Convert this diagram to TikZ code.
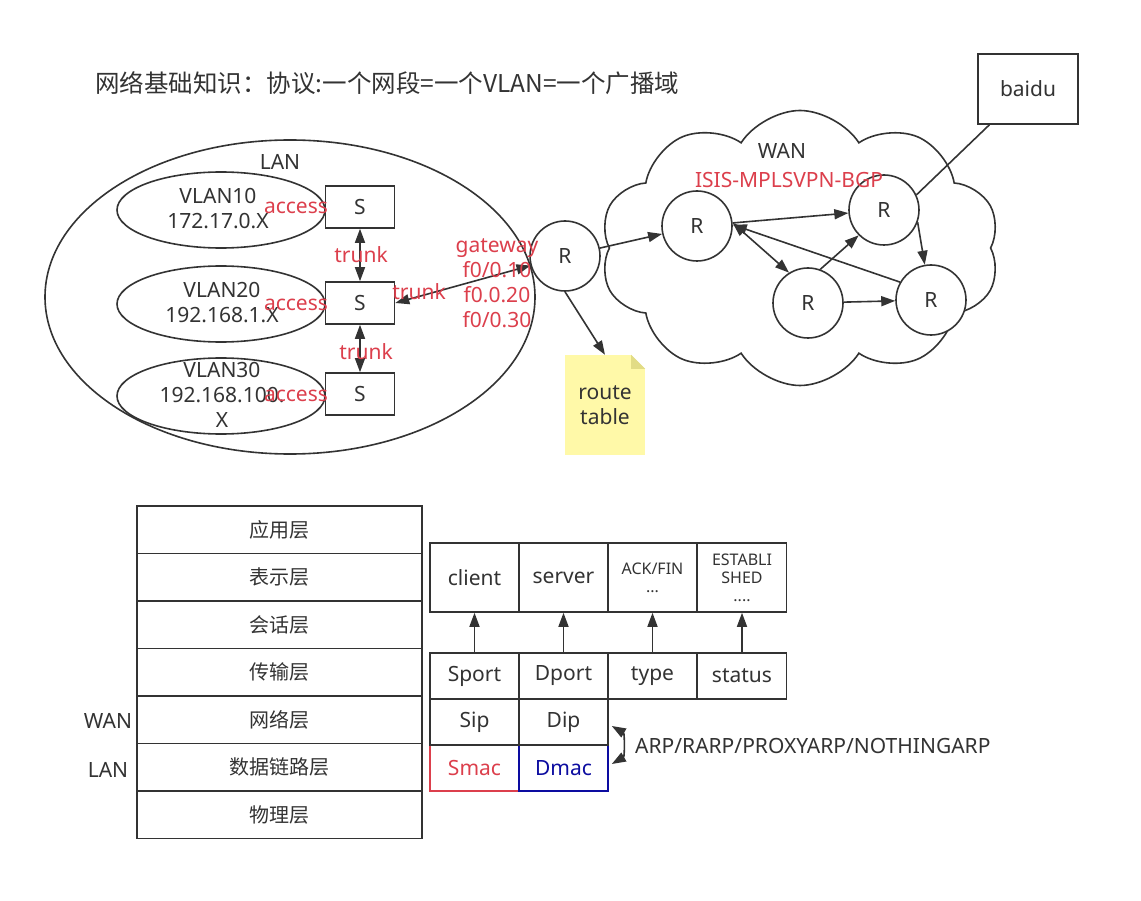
\documentclass[tikz,border=0pt]{standalone}
\usepackage{fontspec}
\setmainfont{Noto Sans}
\newfontfamily\cjk{Noto Sans CJK SC}
\usetikzlibrary{shapes.symbols,shapes.geometric,arrows.meta,calc}
\definecolor{ln}{HTML}{333333}
\definecolor{rd}{HTML}{DC3F4C}
\definecolor{bl}{HTML}{0C0CA0}
\definecolor{notey}{HTML}{FFF9A8}
\definecolor{notef}{HTML}{E2DC86}
\tikzset{
  lw/.style={draw=ln,line width=1.6pt},
  tip/.tip={Triangle[length=14pt,width=10pt]},
  arr/.style={lw,-tip},
  dbl/.style={lw,tip-tip},
  txt/.style={font=\fontsize{21}{25}\selectfont,text=ln,align=center,inner sep=0pt},
  rtxt/.style={font=\fontsize{21}{25}\selectfont,text=rd,align=center,inner sep=0pt},
  stxt/.style={font=\fontsize{16}{18}\selectfont,text=ln,align=center,inner sep=0pt},
  sbox/.style={lw,rectangle,minimum width=69pt,minimum height=42pt,inner sep=0pt,font=\fontsize{21}{25}\selectfont,text=ln},
  rnode/.style={lw,circle,fill=white,minimum size=70pt,inner sep=0pt,font=\fontsize{21}{25}\selectfont,text=ln},
  vell/.style={lw,ellipse,minimum width=208pt,minimum height=76pt,inner sep=0pt},
  osi/.style={lw,rectangle,minimum width=285pt,minimum height=47.5pt,inner sep=0pt,font=\cjk\fontsize{20}{24}\selectfont,text=ln},
  cellA/.style={lw,rectangle,minimum width=89pt,minimum height=69pt,inner sep=0pt},
  cellB/.style={lw,rectangle,minimum width=89pt,minimum height=46pt,inner sep=0pt,font=\fontsize{21}{25}\selectfont,text=ln},
}
\begin{document}
\begin{tikzpicture}[x=1pt,y=-1pt]
\useasboundingbox[fill=white] (0,0) rectangle (1141,901);

% title
\node[anchor=west,inner sep=0pt,text=ln,font=\cjk\fontsize{24.5}{28}\selectfont] (title) at (95,83) {网络基础知识：协议:一个网段=一个VLAN=一个广播域};

% LAN
\node[lw,ellipse,minimum width=490pt,minimum height=314pt,inner sep=0pt] (lan) at (290,297) {};
\node[txt] (lanlbl) at (280,162) {LAN};
\node[vell] (v10) at (221,210) {};
\node[vell] (v20) at (221,304) {};
\node[vell] (v30) at (221,396) {};
\node[txt] (v10t) at (218,209) {VLAN10\\172.17.0.X};
\node[txt] (v20t) at (222,303) {VLAN20\\192.168.1.X};
\node[txt] (v30t) at (222,395) {VLAN30\\192.168.100.\\X};
\node[sbox] (s1) at (360,207) {S};
\node[sbox] (s2) at (360,303) {S};
\node[sbox] (s3) at (360,394) {S};
\node[rtxt] (a1) at (296,208) {access};
\node[rtxt] (a2) at (296,305) {access};
\node[rtxt] (a3) at (296,396) {access};
\draw[dbl] (s1) -- (s2);
\draw[dbl] (s2) -- (s3);
\node[rtxt] (t1) at (361,255) {trunk};
\node[rtxt] (t3) at (366,352) {trunk};

% gateway router
\node[rnode,fill=none] (rg) at (565,256) {R};
\draw[dbl] (s2.east) -- (rg);
\node[rtxt] (t2) at (419,292) {trunk};
\node[rtxt] (gw) at (497,283) {gateway\\f0/0.10\\f0.0.20\\f0/0.30};

% route table note
\node[fill=notey,minimum width=80pt,minimum height=100pt,inner sep=0pt,txt] (note) at (605,405) {route\\table};
\fill[white] ($(note.north east)+(-14,0)$) -- (note.north east) -- ($(note.north east)+(0,14)$) -- cycle;
\fill[notef] ($(note.north east)+(-14,0)$) -- ($(note.north east)+(-14,14)$) -- ($(note.north east)+(0,14)$) -- cycle;
\draw[arr] (rg.south) -- (note.north);

% WAN cloud
\node[lw,cloud,cloud puffs=10,cloud puff arc=115,aspect=1.45,minimum width=400pt,minimum height=275pt,inner sep=0pt] (wan) at (800,248) {};
\node[txt] (wanlbl) at (782,151) {WAN};
\node[rnode] (r1) at (697,226) {R};
\node[rnode] (r2) at (884,210) {R};
\node[rnode] (r3) at (808,303) {R};
\node[rnode] (r4) at (931,300) {R};
\node[rtxt] (isis) at (789,180) {ISIS-MPLSVPN-BGP};
\draw[arr] (rg) -- (r1);
\draw[arr] (r1) -- (r2);
\draw[arr] (r3.70) -- (r2.225);
\draw[dbl] (r1.5) -- (r3.122);
\draw[arr] (r4.150) -- (r1.2);
\draw[arr] (r3) -- (r4);
\draw[arr] (r2.-20) -- (r4.100);
\node[lw,rectangle,minimum width=100pt,minimum height=70pt,inner sep=0pt,txt] (baidu) at (1028,89) {baidu};
\draw[lw] (r2.25) -- ($(baidu.south west)!0.12!(baidu.south east)$);

% OSI stack
\node[osi] (o1) at (279.5,529.75) {应用层};
\node[osi] (o2) at (279.5,577.25) {表示层};
\node[osi] (o3) at (279.5,624.75) {会话层};
\node[osi] (o4) at (279.5,672.25) {传输层};
\node[osi] (o5) at (279.5,719.75) {网络层};
\node[osi] (o6) at (279.5,767.25) {数据链路层};
\node[osi] (o7) at (279.5,814.75) {物理层};
\node[txt] (wanl) at (108,721) {WAN};
\node[txt] (lanl) at (108,770) {LAN};

% top table
\node[cellA,txt] (client) at (474.5,577.5) {client};
\node[cellA,txt] (server) at (563.5,577.5) {server};
\node[cellA,stxt] (ack) at (652.5,577.5) {ACK/FIN\\...};
\node[cellA,stxt] (est) at (742,577.5) {ESTABLI\\SHED\\....};

% header fields
\node[cellB] (sport) at (474.5,676) {Sport};
\node[cellB] (dport) at (563.5,676) {Dport};
\node[cellB] (type) at (652.5,676) {type};
\node[cellB] (status) at (742,676) {status};
\node[cellB,draw=rd,text=rd] (smac) at (474.5,768) {Smac};
\node[cellB,draw=bl,text=bl] (dmac) at (563.5,768) {Dmac};
\node[cellB] (sip) at (474.5,722) {Sip};
\node[cellB] (dip) at (563.5,722) {Dip};
\draw[arr] (sport.north) -- (client.south);
\draw[arr] (dport.north) -- (server.south);
\draw[arr] (type.north) -- (ack.south);
\draw[arr] (status.north) -- (est.south);
\draw[dbl] ($(dip.east)+(3,4)$) to[bend left=60] ($(dmac.east)+(3,-4)$);
\node[txt,anchor=west] (arp) at (635,746) {ARP/RARP/PROXYARP/NOTHINGARP};
\end{tikzpicture}
\end{document}
